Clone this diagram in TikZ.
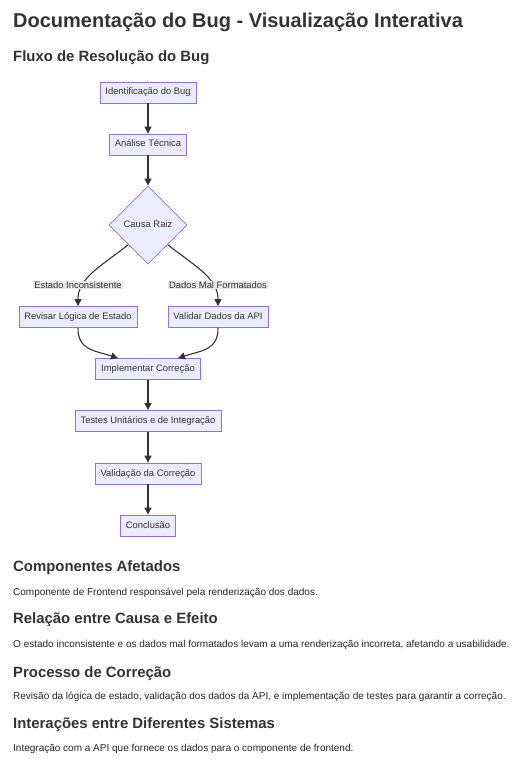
\documentclass[tikz,border=0pt]{standalone}
\usepackage{fontspec}
\setmainfont{Liberation Sans}
\newfontfamily\nodefont{Liberation Sans}
\usetikzlibrary{arrows.meta,shapes.geometric}
\definecolor{nodefill}{HTML}{ECECFF}\definecolor{nodeline}{HTML}{9370DB}
\definecolor{edgecol}{HTML}{333333}\definecolor{lblfill}{HTML}{E8E8E8}
\begin{document}
\begin{tikzpicture}[x=1pt,y=-1pt,
  box/.style={draw=nodeline,fill=nodefill,line width=.8pt,font=\nodefont\fontsize{9.4}{11}\selectfont,text=edgecol,minimum height=21pt,text height=7pt,text depth=2pt,inner xsep=5.5pt,inner ysep=0pt},
  rhomb/.style={box,shape=diamond,aspect=1,minimum width=78pt,minimum height=78pt},
  lbl/.style={fill=lblfill,font=\nodefont\fontsize{9.4}{11}\selectfont,text=edgecol,inner sep=1pt},
  flow/.style={draw=edgecol,line width=1.1pt,-{Triangle[length=7pt,width=7pt]}},
  hd/.style={anchor=base west,inner sep=0pt,text=edgecol,font=\bfseries\fontsize{14.9}{18}\selectfont},
  txt/.style={anchor=base west,inner sep=0pt,text=black!85,font=\fontsize{10}{12}\selectfont}]
\fill[white] (0,0) rectangle (514,767);\useasboundingbox (0,0) rectangle (514,767);
\node[hd,font=\bfseries\fontsize{20}{22}\selectfont] (titulo) at (13,28) {Documentação do Bug - Visualização Interativa};
\node[hd] (fluxo) at (13,62) {Fluxo de Resolução do Bug};
% fluxograma
\node[box] (ident) at (148,92.5) {Identificação do Bug};\node[box] (analise) at (148,144.5) {Análise Técnica};
\node[rhomb] (causa) at (148,225) {Causa Raiz};
\node[box] (revisar) at (78,317) {Revisar Lógica de Estado};\node[box] (validar) at (218,317) {Validar Dados da API};
\node[box] (impl) at (148,369) {Implementar Correção};\node[box] (testes) at (148,421) {Testes Unitários e de Integração};
\node[box] (valid) at (148,473.5) {Validação da Correção};\node[box] (concl) at (148,525.5) {Conclusão};
\draw[flow] (ident)--(analise);\draw[flow] (analise)--(causa);
\draw[flow] (causa.south west) .. controls +(-28,22) and +(0,-28) .. (revisar.north);
\draw[flow] (causa.south east) .. controls +(28,22) and +(0,-28) .. (validar.north);
\node[lbl] (lblE) at (78,285) {Estado Inconsistente};\node[lbl] (lblD) at (218,285) {Dados Mal Formatados};
\draw[flow] (revisar.south) .. controls +(0,22) and +(-25,-8) .. ([xshift=-30pt]impl.north);
\draw[flow] (validar.south) .. controls +(0,22) and +(25,-8) .. ([xshift=30pt]impl.north);
\draw[flow] (impl)--(testes);\draw[flow] (testes)--(valid);\draw[flow] (valid)--(concl);
% secoes
\node[hd] (comp) at (13,571) {Componentes Afetados};
\node[txt] (compt) at (13,595) {Componente de Frontend responsável pela renderização dos dados.};
\node[hd] (rel) at (13,623) {Relação entre Causa e Efeito};
\node[txt] (relt) at (13,647) {O estado inconsistente e os dados mal formatados levam a uma renderização incorreta, afetando a usabilidade.};
\node[hd] (proc) at (13,677) {Processo de Correção};
\node[txt] (proct) at (13,699.5) {Revisão da lógica de estado, validação dos dados da API, e implementação de testes para garantir a correção.};
\node[hd] (inter) at (13,728) {Interações entre Diferentes Sistemas};
\node[txt] (intert) at (13,751.5) {Integração com a API que fornece os dados para o componente de frontend.};
\end{tikzpicture}
\end{document}
